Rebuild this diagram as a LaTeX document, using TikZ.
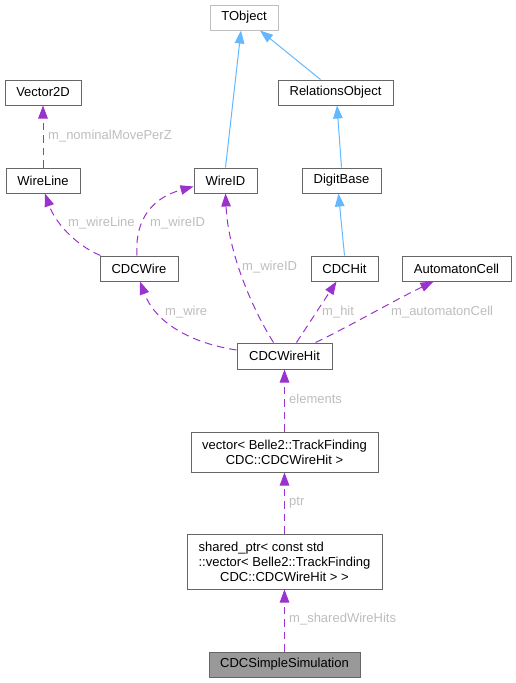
\documentclass[tikz,border=0pt]{standalone}
\usepackage{fontspec}
\usepackage{calc}
\setmainfont{Liberation Sans}
\usetikzlibrary{arrows.meta}
\definecolor{boxgray}{HTML}{666666}
\definecolor{lightborder}{HTML}{BFBFBF}
\definecolor{lblgray}{HTML}{BDBDBD}
\definecolor{purp}{HTML}{9A32CD}
\definecolor{bluec}{HTML}{63B8FF}
\definecolor{simfill}{HTML}{999999}
\begin{document}
\begin{tikzpicture}[x=1pt,y=-1pt,
  every node/.style={font=\fontsize{13}{15}\selectfont},
  cls/.style={draw=boxgray, line width=1pt, fill=white, rectangle, inner sep=2pt, minimum height=25pt, align=center},
  lbl/.style={text=lblgray, anchor=west, inner sep=0pt},
  pe/.style={draw=purp, line width=1pt, dash pattern=on 7.5pt off 5pt, -{Triangle[length=13pt,width=9.5pt]}},
  be/.style={draw=bluec, line width=1pt, -{Triangle[length=13pt,width=9.5pt]}}
]
\useasboundingbox (0,0) rectangle (516,683);
% nodes
\node[cls, draw=lightborder, minimum width=68pt] (tobj) at (244,17.5) {TObject};
\node[cls, minimum width=76pt] (vec2d) at (43,92.5) {Vector2D};
\node[cls, minimum width=115pt] (relobj) at (335.5,92.5) {RelationsObject};
\node[cls, minimum width=74pt] (wline) at (43,180.5) {WireLine};
\node[cls, minimum width=63pt] (wid) at (225.5,180.5) {WireID};
\node[cls, minimum width=79pt] (dbase) at (341.5,180.5) {DigitBase};
\node[cls, minimum width=78pt] (cwire) at (139,268.5) {CDCWire};
\node[cls, minimum width=67pt] (chit) at (344.5,268.5) {CDCHit};
\node[cls, minimum width=109pt] (acell) at (456.5,268.5) {AutomatonCell};
\node[cls, minimum width=95pt, minimum height=26pt] (cwh) at (284.5,356) {CDCWireHit};
\node[cls, minimum width=187pt, minimum height=40pt] (vec) at (284.5,452) {vector< Belle2::TrackFinding\\CDC::CDCWireHit >};
\node[cls, minimum width=195pt, minimum height=55pt] (sptr) at (284.5,561.5) {\makebox[\widthof{::vector< Belle2::TrackFinding}][l]{shared\_ptr< const std}\\::vector< Belle2::TrackFinding\\CDC::CDCWireHit > >};
\node[cls, fill=simfill, minimum width=151pt] (sim) at (284.5,664.5) {CDCSimpleSimulation};
% blue inheritance edges
\draw[be] (wid.north) -- ([xshift=-3pt]tobj.south);
\draw[be] ([xshift=-15pt]relobj.north) -- ([xshift=16pt]tobj.south);
\draw[be] (dbase.north) -- ([xshift=1.5pt]relobj.south);
\draw[be] (chit.north) -- ([xshift=-3pt]dbase.south);
% purple usage edges
\draw[pe] (wline.north) -- (vec2d.south);
\node[lbl] (l1) at (48,136) {m\_nominalMovePerZ};
\draw[pe] ([xshift=1pt]cwire.north west) .. controls (75,245) and (55,222) .. ([xshift=2pt]wline.south);
\node[lbl] (l2) at (68,223) {m\_wireLine};
\draw[pe] ([xshift=-2pt]cwire.north) .. controls (135,228) and (145,200) .. ([yshift=-6pt]wid.west);
\node[lbl] (l3) at (150,223) {m\_wireID};
\draw[pe] ([yshift=6pt]cwh.west) .. controls (190,343) and (155,322) .. ([xshift=1pt]cwire.south);
\node[lbl] (l4) at (165,312) {m\_wire};
\draw[pe] ([xshift=-11pt]cwh.north) .. controls (250,305) and (228,250) .. (wid.south);
\node[lbl] (l5) at (242,267) {m\_wireID};
\draw[pe] ([xshift=12pt]cwh.north) -- ([xshift=-8pt]chit.south);
\node[lbl] (l6) at (322,312) {m\_hit};
\draw[pe] ([xshift=-17pt]cwh.north east) .. controls (350,326) and (395,300) .. ([xshift=-23pt]acell.south);
\node[lbl] (l7) at (391,312) {m\_automatonCell};
\draw[pe] (vec.north) -- (cwh.south);
\node[lbl] (l8) at (289,399) {elements};
\draw[pe] (sptr.north) -- (vec.south);
\node[lbl] (l9) at (289,503) {ptr};
\draw[pe] (sim.north) -- (sptr.south);
\node[lbl] (l10) at (289,619) {m\_sharedWireHits};
\end{tikzpicture}
\end{document}
